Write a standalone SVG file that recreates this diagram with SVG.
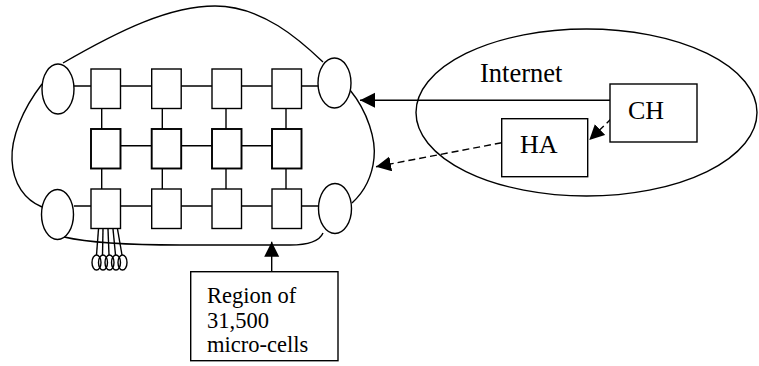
<svg xmlns="http://www.w3.org/2000/svg" width="759" height="366" viewBox="0 0 759 366">
  <style>
    .ln { fill: none; stroke: #000; stroke-width: 1.4; }
    .cell { fill: #fff; stroke: #000; stroke-width: 1.4; }
    .cell.b { stroke-width: 1.9; }
    .bs { fill: #fff; stroke: #000; stroke-width: 1.4; }
    .dash { fill: none; stroke: #000; stroke-width: 1.4; stroke-dasharray: 7 4; }
    .t { font-family: "Liberation Serif", "Times New Roman", serif; fill: #000; }
  </style>
  <defs>
    <marker id="arr" markerUnits="userSpaceOnUse" markerWidth="16" markerHeight="16" refX="15" refY="7.5" orient="auto">
      <path d="M0,0 L15,7.5 L0,15 z" fill="#000"/>
    </marker>
  </defs>

  <rect width="759" height="366" fill="#fff"/>

  <!-- Internet cloud -->
  <g id="internet">
    <ellipse class="ln" cx="586.5" cy="112.5" rx="170.5" ry="83.5"/>
    <text class="t" x="480" y="82" font-size="26.5">Internet</text>
  </g>

  <!-- Region outline and grid wiring -->
  <g id="connectors">
    <path class="ln" d="M63,63 C120,30 170,6 215,6 C262,6 300,40 323,62"/>
    <path class="ln" d="M350,90 C368,112 376,140 374,158 C372,178 364,192 352,203"/>
    <path class="ln" d="M42,84 C22,110 11,138 12,160 C13,184 25,200 42,207"/>
    <path class="ln" d="M64,237 C90,243 130,245 180,245 L290,245 C310,245 320,240 323,233"/>
    <line class="ln" x1="74" y1="86" x2="318" y2="86"/>
    <line class="ln" x1="120" y1="145.7" x2="272" y2="145.7"/>
    <line class="ln" x1="74" y1="206" x2="318" y2="206"/>
    <line class="ln" x1="101.7" y1="108" x2="101.7" y2="189"/>
    <line class="ln" x1="162.3" y1="108" x2="162.3" y2="189"/>
    <line class="ln" x1="226" y1="108" x2="226" y2="189"/>
    <line class="ln" x1="286" y1="108" x2="286" y2="189"/>
    <!-- antenna leads -->
    <line class="ln" x1="98.5" y1="229" x2="96.5" y2="255"/>
    <line class="ln" x1="103" y1="229" x2="102.5" y2="255"/>
    <line class="ln" x1="108" y1="229" x2="109" y2="255"/>
    <line class="ln" x1="113" y1="229" x2="115.5" y2="255"/>
    <line class="ln" x1="117.5" y1="229" x2="122" y2="255"/>
    <!-- arrows -->
    <line class="ln" x1="271.7" y1="271.7" x2="271.7" y2="241.7" marker-end="url(#arr)"/>
    <line class="ln" x1="610" y1="100.3" x2="360" y2="100.3" marker-end="url(#arr)"/>
    <line class="dash" x1="611.7" y1="118.3" x2="589.3" y2="140" marker-end="url(#arr)"/>
    <line class="dash" x1="501.7" y1="142.7" x2="376" y2="166.7" marker-end="url(#arr)"/>
  </g>

  <!-- antenna loops -->
  <g id="loops">
    <ellipse class="ln" cx="96.5" cy="262.5" rx="4.5" ry="7.5"/>
    <ellipse class="ln" cx="103" cy="262.5" rx="4.5" ry="7.5"/>
    <ellipse class="ln" cx="109.5" cy="262.5" rx="4.5" ry="7.5"/>
    <ellipse class="ln" cx="116" cy="262.5" rx="4.5" ry="7.5"/>
    <ellipse class="ln" cx="122.5" cy="262.5" rx="4.5" ry="7.5"/>
  </g>

  <!-- base stations -->
  <g id="bs-tl"><ellipse class="bs" cx="58" cy="89" rx="16" ry="25"/></g>
  <g id="bs-tr"><ellipse class="bs" cx="334.5" cy="83" rx="16.5" ry="25"/></g>
  <g id="bs-bl"><ellipse class="bs" cx="57.5" cy="214.5" rx="16" ry="25"/></g>
  <g id="bs-br"><ellipse class="bs" cx="335" cy="208.5" rx="16.5" ry="25"/></g>

  <!-- micro-cells -->
  <g id="cell-r1c1"><rect class="cell" x="91" y="69" width="29.5" height="39.5"/></g>
  <g id="cell-r1c2"><rect class="cell" x="151.7" y="69" width="29.5" height="39.5"/></g>
  <g id="cell-r1c3"><rect class="cell" x="212" y="69" width="29.5" height="39.5"/></g>
  <g id="cell-r1c4"><rect class="cell" x="272" y="69" width="29.5" height="39.5"/></g>
  <g id="cell-r2c1"><rect class="cell b" x="91" y="129" width="29.5" height="39.5"/></g>
  <g id="cell-r2c2"><rect class="cell b" x="151.7" y="129" width="29.5" height="39.5"/></g>
  <g id="cell-r2c3"><rect class="cell b" x="212" y="129" width="29.5" height="39.5"/></g>
  <g id="cell-r2c4"><rect class="cell b" x="272" y="129" width="29.5" height="39.5"/></g>
  <g id="cell-r3c1"><rect class="cell" x="91" y="189" width="29.5" height="39.5"/></g>
  <g id="cell-r3c2"><rect class="cell" x="151.7" y="189" width="29.5" height="39.5"/></g>
  <g id="cell-r3c3"><rect class="cell" x="212" y="189" width="29.5" height="39.5"/></g>
  <g id="cell-r3c4"><rect class="cell" x="272" y="189" width="29.5" height="39.5"/></g>

  <!-- hosts -->
  <g id="ch">
    <rect class="bs" x="610" y="84" width="87" height="58"/>
    <text class="t" x="628" y="119" font-size="26">CH</text>
  </g>
  <g id="ha">
    <rect class="bs" x="501.7" y="118.7" width="86" height="58"/>
    <text class="t" x="520" y="152.7" font-size="26">HA</text>
  </g>

  <!-- region label -->
  <g id="region">
    <rect class="bs" x="190.7" y="271.7" width="147.3" height="89"/>
    <text class="t" font-size="22.5">
      <tspan x="207" y="302.7">Region of</tspan>
      <tspan x="207" y="327.7">31,500</tspan>
      <tspan x="207" y="351.7">micro-cells</tspan>
    </text>
  </g>
</svg>
